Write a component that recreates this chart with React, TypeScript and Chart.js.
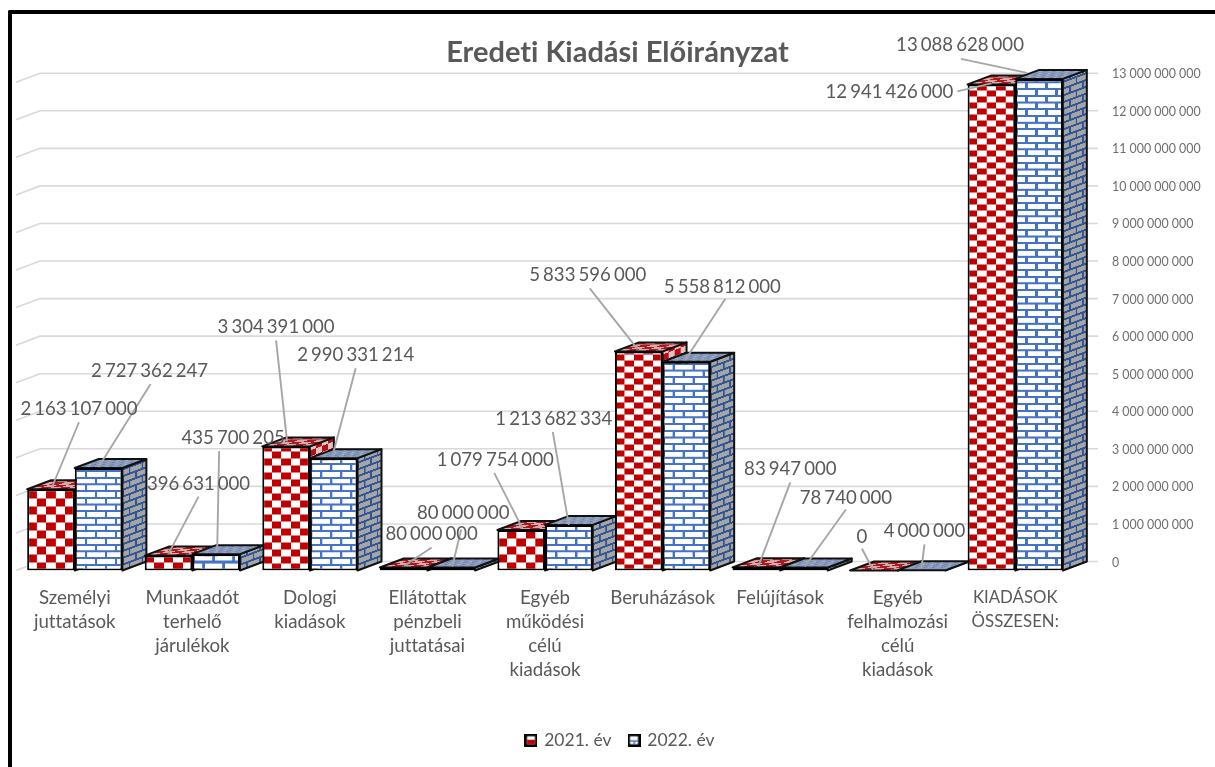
import React, { useEffect, useRef } from "react";
import { Chart, registerables } from "chart.js";

Chart.register(...registerables);

const titleText = "Eredeti Kiadási Előirányzat";
const categories = [
  ["Személyi", "juttatások"],
  ["Munkaadót", "terhelő", "járulékok"],
  ["Dologi", "kiadások"],
  ["Ellátottak", "pénzbeli", "juttatásai"],
  ["Egyéb", "működési", "célú", "kiadások"],
  ["Beruházások"],
  ["Felújítások"],
  ["Egyéb", "felhalmozási", "célú", "kiadások"],
  ["KIADÁSOK", "ÖSSZESEN:"],
];
const values2021 = [2163107000, 396631000, 3304391000, 80000000, 1079754000, 5833596000, 83947000, 0, 12941426000];
const values2022 = [2727362247, 435700205, 2990331214, 80000000, 1213682334, 5558812000, 78740000, 4000000, 13088628000];
const axisTicks = [
  0, 1000000000, 2000000000, 3000000000, 4000000000, 5000000000, 6000000000, 7000000000, 8000000000, 9000000000,
  10000000000, 11000000000, 12000000000, 13000000000,
];

// label centre dx,dy, leader start dx,dy, leader end dx,dy (relative to bar top centre)
const callouts2021 = [
  [28, -82, 28, -67, 1, -2],
  [30, -74, 30, -59, 0, -2],
  [-10, -121, -10, -106, 1, -5],
  [28, -35, 28, -20, 1, -2],
  [-26, -72, -27, -57, 1, -2],
  [-51, -78, -49, -63, -1, -2],
  [34, -100, 34, -85, 2, -1],
  [-12, -36, -12, -22, -1, -1],
  [-102, 6, -34, 7, 0, -1],
];
const callouts2022 = [
  [51, -99, 52, -84, 0, -1],
  [17, -118, 3, -103, 1, -2],
  [22, -105, 22, -90, 0, -7],
  [12, -56, 10, -38, 1, -1],
  [-15, -108, -16, -93, 0, 0],
  [36, -77, 39, -63, -1, -2],
  [42, -72, 42, -58, 1, -1],
  [3, -41, 3, -26, 0, -2],
  [-79, -36, -78, -20, -12, -6],
];

const FONT = "Lato";
const DEPTH_X = 24;
const DEPTH_Y = 9;
const TEXT = "#595959";
const GRID = "#D9D9D9";
const RED = "#C00000";
const BLUE = "#4472C4";

const fmt = (n: number) => String(n).replace(/\B(?=(\d{3})+(?!\d))/g, " ");

function tile(w: number, h: number, draw: (c: CanvasRenderingContext2D) => void) {
  const cv = document.createElement("canvas");
  cv.width = w;
  cv.height = h;
  draw(cv.getContext("2d") as CanvasRenderingContext2D);
  return cv;
}
const checkerTile = (a: string, b: string) =>
  tile(40, 40, (c) => {
    c.fillStyle = a;
    c.fillRect(0, 0, 40, 40);
    c.fillStyle = b;
    c.fillRect(0, 0, 20, 20);
    c.fillRect(20, 20, 20, 20);
  });
const brickTile = (bg: string, line: string) =>
  tile(40, 40, (c) => {
    c.fillStyle = bg;
    c.fillRect(0, 0, 40, 40);
    c.fillStyle = line;
    c.fillRect(0, 0, 40, 6);
    c.fillRect(0, 20, 40, 6);
    c.fillRect(0, 0, 5, 20);
    c.fillRect(20, 20, 5, 20);
  });
const dotTile = () =>
  tile(16, 16, (c) => {
    c.fillStyle = "#8A9ABA";
    c.fillRect(0, 0, 16, 16);
    c.fillStyle = "#6B83B4";
    c.fillRect(1, 2, 4, 5);
    c.fillRect(9, 10, 4, 5);
    c.fillStyle = "#ABB4C6";
    c.fillRect(9, 2, 3, 4);
    c.fillRect(1, 10, 3, 4);
  });

const tiles = {
  redFront: () => checkerTile("#FFFFFF", RED),
  redTop: () => checkerTile("#D9A9AA", "#A81A20"),
  redSide: () => checkerTile("#D8C6C6", "#BE0A10"),
  blueFront: () => brickTile("#FFFFFF", BLUE),
  blueSide: () => brickTile("#A5A5A5", "#2F5597"),
  blueTop: () => dotTile(),
};

function pattern(ctx: CanvasRenderingContext2D, cv: HTMLCanvasElement, m: number[]) {
  const p = ctx.createPattern(cv, "repeat") as CanvasPattern;
  p.setTransform(new DOMMatrix(m));
  return p;
}

function barBox(chart: any, datasetIndex: number, index: number) {
  const xs = chart.scales.x;
  const ys = chart.scales.y;
  const pitch = xs.width / categories.length;
  const w = pitch * 0.81 * 0.5;
  const c = xs.getPixelForValue(index);
  return { left: c + (datasetIndex - 1) * w, width: w, base: ys.getPixelForValue(0) };
}

function frontFill(ctx: any) {
  if (ctx.type !== "data") return RED;
  const chart = ctx.chart;
  const { left, base } = barBox(chart, ctx.datasetIndex, ctx.dataIndex);
  const v = ctx.raw as number;
  const c2d = chart.ctx;
  if (ctx.datasetIndex === 0) {
    const cellH = v >= 5e9 ? 6 : v >= 3e9 ? 7 : 8;
    return pattern(c2d, tiles.redFront(), [9.5 / 20, 0, 0, cellH / 20, left, base]);
  }
  const rowH = v < 1e9 ? 10 : 6.7;
  return pattern(c2d, tiles.blueFront(), [0.5, 0, 0, rowH / 20, left, base]);
}

const face = (c: CanvasRenderingContext2D, pts: number[][], fill: any) => {
  c.beginPath();
  pts.forEach((p, i) => (i ? c.lineTo(p[0], p[1]) : c.moveTo(p[0], p[1])));
  c.closePath();
  c.fillStyle = fill;
  c.fill();
  c.stroke();
};

const wallsPlugin = {
  id: "walls",
  beforeDraw(chart: any) {
    chart.ctx.textRendering = "optimizeSpeed";
  },
  afterLayout(chart: any) {
    if (chart.titleBlock) {
      chart.titleBlock.left += 2;
      chart.titleBlock.right += 2;
    }
    if (chart.legend) {
      chart.legend.left += 5;
      chart.legend.right += 5;
    }
  },
  beforeDatasetsDraw(chart: any) {
    const c = chart.ctx as CanvasRenderingContext2D;
    const ys = chart.scales.y;
    const { left, right } = chart.chartArea;
    c.save();
    c.strokeStyle = GRID;
    c.lineWidth = 1.6;
    ys.ticks.forEach((t: any) => {
      const y = ys.getPixelForValue(t.value);
      c.beginPath();
      c.moveTo(left, y);
      c.lineTo(left + DEPTH_X, y - DEPTH_Y);
      c.lineTo(right + DEPTH_X, y - DEPTH_Y);
      c.stroke();
    });
    c.strokeStyle = "#111111";
    c.lineWidth = 2;
    c.lineJoin = "round";
    categories.forEach((_, i) => {
      [0, 1].forEach((ds) => {
        const el = chart.getDatasetMeta(ds).data[i];
        const w = el.width;
        const l = el.x - w / 2;
        const r = el.x + w / 2;
        const y = el.y;
        const b = el.base;
        const topSkew = -DEPTH_X / DEPTH_Y;
        const sideSkew = -DEPTH_Y / DEPTH_X;
        const topFill =
          ds === 0
            ? pattern(c, tiles.redTop(), [0.48, 0, topSkew * 0.115, 0.115, l, y])
            : pattern(c, tiles.blueTop(), [0.55, 0, topSkew * 0.28, 0.28, l, y]);
        const sideFill =
          ds === 0
            ? pattern(c, tiles.redSide(), [0.3, 0.3 * sideSkew, 0, 0.3, r, b])
            : pattern(c, tiles.blueSide(), [0.32, 0.32 * sideSkew, 0, 0.34, r, b]);
        face(c, [[r, y], [r + DEPTH_X, y - DEPTH_Y], [r + DEPTH_X, b - DEPTH_Y], [r, b]], sideFill);
        face(c, [[l, y], [r, y], [r + DEPTH_X, y - DEPTH_Y], [l + DEPTH_X, y - DEPTH_Y]], topFill);
      });
    });
    c.restore();
  },
  afterDatasetsDraw(chart: any) {
    const c = chart.ctx as CanvasRenderingContext2D;
    c.save();
    const series = [
      { values: values2021, callouts: callouts2021 },
      { values: values2022, callouts: callouts2022 },
    ];
    series.forEach((s, ds) => {
      const bars = chart.getDatasetMeta(ds).data;
      c.strokeStyle = "#A6A6A6";
      c.lineWidth = 1.9;
      s.values.forEach((_, i) => {
        const [, , sx, sy, ex, ey] = s.callouts[i];
        const { x, y } = bars[i];
        c.beginPath();
        c.moveTo(x + sx, y + sy);
        c.lineTo(x + ex, y + ey);
        c.stroke();
      });
    });
    c.font = `18.6px ${FONT}`;
    (c as any).wordSpacing = "-1.7px";
    c.fillStyle = TEXT;
    c.textAlign = "center";
    c.textBaseline = "middle";
    series.forEach((s, ds) => {
      const bars = chart.getDatasetMeta(ds).data;
      s.values.forEach((v, i) => {
        const [dx, dy] = s.callouts[i];
        c.fillText(fmt(v), bars[i].x + dx, bars[i].y + dy + 2);
      });
    });
    c.restore();
  },
};

function legendIcon(fill: string) {
  return tile(13, 13, (c) => {
    c.fillStyle = "#000000";
    c.fillRect(0, 0, 13, 13);
    c.fillStyle = "#FFFFFF";
    c.fillRect(2.5, 2.5, 8, 8);
    c.fillStyle = fill;
    if (fill === RED) c.fillRect(2.5, 6, 8, 4.5);
    else {
      c.fillRect(2.5, 6.5, 8, 1.5);
      c.fillRect(6, 8, 1.5, 2.5);
    }
  });
}

export default function App() {
  const ref = useRef<HTMLCanvasElement>(null);
  useEffect(() => {
    const barStyle = {
      categoryPercentage: 0.81,
      barPercentage: 1,
      borderWidth: 2,
      borderColor: "#000000",
      borderSkipped: false,
      backgroundColor: frontFill,
    };
    const chart = new Chart(ref.current as HTMLCanvasElement, {
      type: "bar",
      data: {
        labels: categories,
        datasets: [
          { label: "2021. év", data: values2021, ...barStyle },
          { label: "2022. év", data: values2022, ...barStyle },
        ],
      },
      plugins: [wallsPlugin],
      options: {
        animation: false,
        responsive: false,
        devicePixelRatio: 1,
        layout: { padding: { left: 16, right: 0, top: 0, bottom: 8 } },
        plugins: {
          colors: { enabled: false },
          tooltip: { enabled: false },
          title: {
            display: true,
            text: titleText,
            color: TEXT,
            font: { family: FONT, size: 29, weight: "bold", lineHeight: 1.1 },
            padding: { top: 36.6, bottom: 6.2 },
          },
          legend: {
            position: "bottom",
            labels: {
              color: TEXT,
              font: { family: FONT, size: 17.5 },
              usePointStyle: true,
              pointStyleWidth: 9,
              padding: 18,
              generateLabels: () => [
                { text: "2021. év", fontColor: TEXT, pointStyle: legendIcon(RED), datasetIndex: 0, lineWidth: 0 },
                { text: "2022. év", fontColor: TEXT, pointStyle: legendIcon(BLUE), datasetIndex: 1, lineWidth: 0 },
              ],
            },
          },
        },
        scales: {
          x: {
            grid: { display: false },
            border: { display: false },
            afterFit: (s: any) => {
              s.height = 143;
            },
            ticks: {
              color: TEXT,
              autoSkip: false,
              maxRotation: 0,
              minRotation: 0,
              padding: 7,
              font: (ctx: any) => ({
                family: FONT,
                size: ctx.index === 8 ? 16.8 : 18.7,
                lineHeight: ctx.index === 8 ? 24 / 16.8 : 24 / 18.7,
              }),
            },
          },
          y: {
            position: "right",
            min: 0,
            max: 13200000000,
            grid: { display: false, drawTicks: false },
            border: { display: false },
            afterFit: (s: any) => {
              s.width = 141;
            },
            afterBuildTicks: (s: any) => {
              s.ticks = axisTicks.map((value) => ({ value }));
            },
            ticks: {
              autoSkip: false,
              color: "#6E6E6E",
              padding: 38,
              labelOffset: -DEPTH_Y + 1,
              font: { family: FONT, size: 12.4 },
              callback: (v: any) => fmt(Number(v)),
            },
          },
        },
      } as any,
    });
    return () => chart.destroy();
  }, []);

  return (
    <div style={{ position: "absolute", left: 0, top: 0, width: 1215, height: 767, overflow: "hidden", background: "#FFFFFF" }}>
      <div
        style={{
          position: "absolute",
          left: 8,
          top: 10,
          right: -10,
          bottom: -10,
          borderLeft: "4.5px solid #000",
          borderTop: "4.5px solid #000",
          borderRadius: "2px 0 0 0",
        }}
      />
      <canvas ref={ref} width={1215} height={767} style={{ position: "absolute", left: 0, top: 0, display: "block", filter: "blur(0.35px)" }} />
    </div>
  );
}
